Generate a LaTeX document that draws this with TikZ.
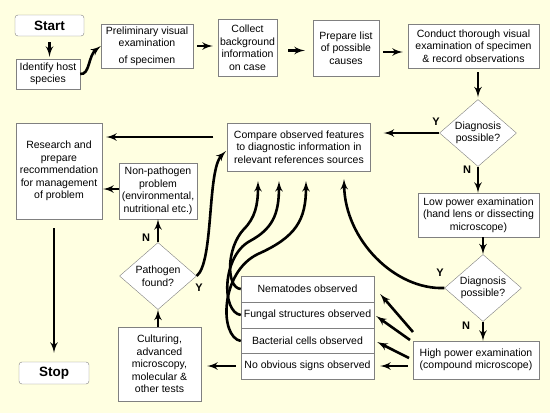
\documentclass[tikz,border=0pt]{standalone}
\usepackage{fontspec}
\setmainfont{Liberation Sans}
\usetikzlibrary{arrows}
\usetikzlibrary{shapes.geometric}
\definecolor{bgyellow}{RGB}{255, 255, 225}
\definecolor{edgegray}{RGB}{128, 128, 128}
\newcommand{\boxfont}{\fontsize{10.5}{12.5}\selectfont}
\tikzset{box/.style = {draw = edgegray, fill = white, align = center, inner sep = 0pt, font = \boxfont}}
\tikzset{term/.style = {box, rounded corners = 3pt, font = \fontsize{13.5}{16}\selectfont\bfseries}}
\tikzset{decide/.style = {box, diamond, aspect = 1.15, minimum width = 77pt, minimum height = 67pt}}
\tikzset{flow/.style = {-latex', line width = 2.6pt}}
\tikzset{yn/.style = {font = \fontsize{11}{13}\selectfont\bfseries}}

\begin{document}
\begin{tikzpicture}[x = 1pt, y = -1pt]
    \fill [bgyellow] (0, 0) rectangle (550, 413);

    % top row
    \node [term, minimum width = 69pt, minimum height = 21pt] (start) at (49.5, 25.5) {Start};
    \node [box, minimum width = 64pt, minimum height = 30pt] (host) at (48, 74) {Identify host\\species};
    \node [box, minimum width = 92pt, minimum height = 44pt] (prelim) at (147, 46) {Preliminary visual\\examination\\[4pt]of specimen};
    \node [box, minimum width = 59pt, minimum height = 57pt] (collect) at (247.5, 47.5) {Collect\\background\\information\\on case};
    \node [box, minimum width = 66pt, minimum height = 56pt] (causes) at (346, 48) {Prepare list\\of possible\\causes};
    \node [box, minimum width = 131pt, minimum height = 44pt] (conduct) at (473.5, 46) {Conduct thorough visual\\examination of specimen\\\& record observations};

    % right column
    \node [decide] (diag1) at (478, 133) {Diagnosis\\possible?};
    \node [box, minimum width = 143pt, minimum height = 48pt] (compare) at (299, 147) {Compare observed features\\to diagnostic information in\\relevant references sources};
    \node [box, minimum width = 121pt, minimum height = 44pt] (low) at (478.5, 215) {Low power examination\\(hand lens or dissecting\\microscope)};
    \node [decide] (diag2) at (483, 288) {Diagnosis\\possible?};
    \node [box, minimum width = 126pt, minimum height = 38pt] (high) at (476, 360) {High power examination\\(compound microscope)};

    % observations
    \node [box, minimum width = 133pt, minimum height = 26pt] (nema) at (307.5, 289) {Nematodes observed};
    \node [box, minimum width = 133pt, minimum height = 26pt] (fungal) at (307.5, 315) {Fungal structures observed};
    \node [box, minimum width = 133pt, minimum height = 26pt] (bact) at (307.5, 341) {Bacterial cells observed};
    \node [box, minimum width = 133pt, minimum height = 26pt] (noobv) at (307.5, 366) {No obvious signs observed};

    % left side
    \node [box, minimum width = 83pt, minimum height = 74pt] (culture) at (159.5, 364) {Culturing,\\advanced\\microscopy,\\molecular \&\\other tests};
    \node [decide] (pathogen) at (158, 276) {Pathogen\\found?};
    \node [box, minimum width = 78pt, minimum height = 56pt] (nonpath) at (158, 191) {Non-pathogen\\problem\\(environmental,\\nutritional etc.)};
    \node [box, minimum width = 86pt, minimum height = 96pt] (research) at (59, 171) {Research and\\prepare\\recommendation\\for management\\of problem};
    \node [term, minimum width = 70pt, minimum height = 22pt] (stop) at (54, 373) {Stop};

    % labels
    \node [yn] (y1) at (436, 122) {Y};
    \node [yn] (n1) at (467, 170) {N};
    \node [yn] (y2) at (440, 273) {Y};
    \node [yn] (n2) at (466, 326) {N};
    \node [yn] (n3) at (146, 238) {N};
    \node [yn] (y3) at (199, 288) {Y};

    \coordinate (h1) at (413, 332);
    \coordinate (h2) at (410, 340);
    \coordinate (h3) at (409, 358);
    \coordinate (t0) at (226, 151);
    \coordinate (t1) at (258, 181);
    \coordinate (t2) at (279, 181);
    \coordinate (t3) at (306, 181);
    \coordinate (t4) at (344, 179);

    % straight arrows
    \draw [flow, shorten < = 6pt, shorten > = 2pt] (start.south) -- (start.south |- host.north);
    \draw [flow, shorten < = 4pt, shorten > = 5pt] (prelim.east) -- (prelim.east -| collect.west);
    \draw [flow, shorten < = 11pt, shorten > = 8pt] ([yshift = -3pt] collect.east) -- ([yshift = -3pt] collect.east -| causes.west);
    \draw [flow, shorten < = 4pt, shorten > = 5pt] ([yshift = -4pt] causes.east) -- ([yshift = -4pt] causes.east -| conduct.west);
    \draw [flow, shorten < = 4pt, shorten > = 2pt] (diag1.north |- conduct.south) -- (diag1.north);
    \draw [flow, shorten > = 13pt] (diag1.west) -- (diag1.west -| compare.east);
    \draw [flow] (diag1.south) -- (diag1.south |- low.north);
    \draw [flow] (diag2.north |- low.south) -- (diag2.north);
    \draw [flow] (diag2.south) -- (diag2.south |- high.north);
    \draw [flow] (h1) -- ([xshift = 6pt, yshift = -5pt] nema.east);
    \draw [flow] (h2) -- ([xshift = 2pt, yshift = -1pt] fungal.east);
    \draw [flow] (h3) -- ([xshift = 3pt, yshift = -1pt] bact.east);
    \draw [flow, shorten < = 5pt, shorten > = 6pt] (noobv.east -| high.west) -- (noobv.east);
    \draw [flow, shorten < = 5pt, shorten > = 6pt] (noobv.west) -- (noobv.west -| culture.east);
    \draw [flow] (pathogen.south |- culture.north) -- (pathogen.south);
    \draw [flow] (pathogen.north) -- (nonpath.south);
    \draw [flow, shorten > = 1pt] ([yshift = 2pt] nonpath.west) -- ([yshift = 2pt] nonpath.west -| research.east);
    \draw [flow, shorten < = 14pt, shorten > = 4pt] ([yshift = 10pt] compare.west) -- ([yshift = 10pt] compare.west -| research.east);
    \draw [flow, shorten < = 9pt, shorten > = 9pt] (stop.north |- research.south) -- (stop.north);

    % curved arrows
    \draw [flow] (host.east) .. controls (90, 75) and (88, 56) .. (prelim.west);
    \draw [flow] (diag2.west) .. controls (395, 290) and (345, 240) .. (t4);
    \draw [flow] (pathogen.east) .. controls (214, 262) and (207, 170) .. (t0);
    \draw [flow] (nema.west) .. controls (226, 288) and (226, 248) .. (244, 229) .. controls (255, 218) and (258, 205) .. (t1);
    \draw [flow] (fungal.west) .. controls (221, 312) and (222, 256) .. (250, 241) .. controls (272, 229) and (279, 215) .. (t2);
    \draw [flow] (bact.west) .. controls (219, 337) and (220, 272) .. (258, 254) .. controls (296, 237) and (306, 220) .. (t3);
\end{tikzpicture}
\end{document}
